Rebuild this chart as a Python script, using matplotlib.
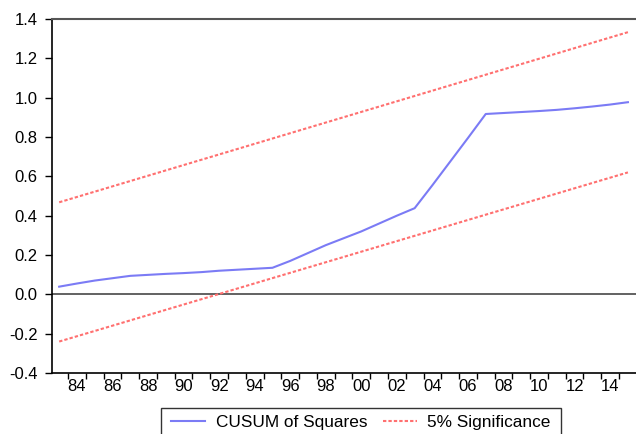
import matplotlib
matplotlib.use("Agg")
import matplotlib.pyplot as plt
from matplotlib.patches import Rectangle

plt.rcParams['font.family'] = ['Liberation Sans', 'DejaVu Sans']

# CUSUM of squares, one value per year
years = list(range(1983, 2016))
cusum_sq = [0.039, 0.055, 0.070, 0.082, 0.094, 0.099, 0.104, 0.108, 0.113,
            0.120, 0.125, 0.130, 0.135, 0.170, 0.210, 0.250, 0.285, 0.320,
            0.360, 0.400, 0.438, 0.555, 0.675, 0.795, 0.917, 0.922, 0.927,
            0.932, 0.938, 0.946, 0.955, 0.965, 0.977]

# 5% significance bounds (straight lines, start and end values)
bound_years = [1983, 2015]
upper_bound = [0.468, 1.333]
lower_bound = [-0.240, 0.620]

label_years = list(range(1984, 2015, 2))
y_ticks = [-0.4, -0.2, 0.0, 0.2, 0.4, 0.6, 0.8, 1.0, 1.2, 1.4]

W, H = 636, 434
fig = plt.figure(figsize=(W / 100, H / 100), dpi=100)
ax = fig.add_axes([51.7 / W, 61 / H, 586 / W, 354 / H])

blue = '#7b7bf5'
red = '#ff7070'
dash = (0, (1.6, 1.0))

ax.axhline(0, color='#555555', lw=1.3, zorder=1)
ax.plot(years, cusum_sq, color=blue, lw=1.5, label='CUSUM of Squares', zorder=3)
ax.plot(bound_years, upper_bound, color=red, lw=1.5, ls=dash,
        label='5% Significance', zorder=2)
ax.plot(bound_years, lower_bound, color=red, lw=1.5, ls=dash, zorder=2)

ax.set_xlim(1982.58, 2015.55)
ax.set_ylim(-0.4, 1.4)

ax.set_yticks(y_ticks)
ax.set_yticklabels(['%.1f' % v for v in y_ticks], fontsize=12)

# ticks at year boundaries, labels centred on the year
ax.set_xticks([y + 0.5 for y in range(1983, 2016)])
ax.set_xticklabels([])
ax.set_xticks(label_years, minor=True)
ax.set_xticklabels(['%02d' % (y % 100) for y in label_years], minor=True, fontsize=12)
ax.tick_params(axis='x', which='major', direction='out', length=4, width=1, color='black')
ax.tick_params(axis='x', which='minor', length=0, pad=4.5)
ax.tick_params(axis='y', direction='out', length=5, width=1, pad=5)

for s in ['left', 'bottom']:
    ax.spines[s].set_color('black')
    ax.spines[s].set_linewidth(1.2)
ax.spines['top'].set_color('#555555')
ax.spines['top'].set_linewidth(1.5)
ax.spines['right'].set_visible(False)

# legend: own frame so its bottom runs off the picture like the original
leg_top = 408
leg = fig.legend(loc='upper center', bbox_to_anchor=(360.8 / W, 1 - (leg_top - 3.5) / H),
                 ncol=2, fontsize=12.4, frameon=False,
                 handlelength=2.0, handletextpad=0.6, columnspacing=0.9,
                 borderpad=0.6, borderaxespad=0)
fig.canvas.draw()
bb = leg.get_window_extent()
fig.patches.append(Rectangle((bb.x0 / W, -0.05), bb.width / W, 1 - leg_top / H + 0.05,
                             transform=fig.transFigure, fill=False,
                             edgecolor='#333333', lw=1.0))

fig.savefig('out.png', dpi=100)
